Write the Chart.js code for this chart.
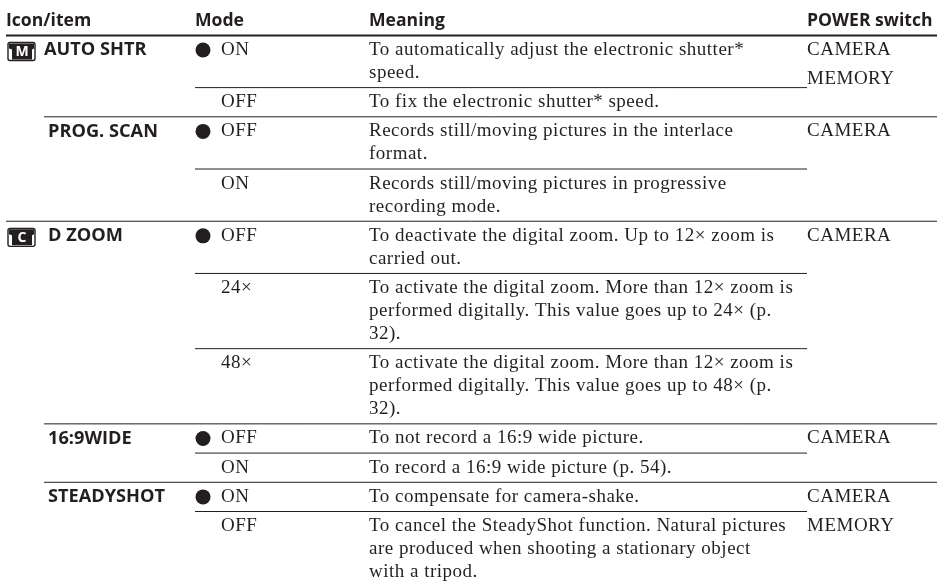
<!DOCTYPE html>
<html lang="en">
<head>
  <meta charset="UTF-8">
  <title>Menu settings table</title>
  <style>
    html, body { margin: 0; padding: 0; background: #fff; }
    canvas { display: block; }
  </style>
</head>
<body>
  <canvas id="chart" width="937" height="582"></canvas>
  <script src="https://cdn.jsdelivr.net/npm/chart.js"></script>
  <script>
    const headers = ['Icon/item', 'Mode', 'Meaning', 'POWER switch'];
    const itemNames = ['AUTO SHTR', 'PROG. SCAN', 'D ZOOM', '16:9WIDE', 'STEADYSHOT'];
    const itemIcons = ['M', '', 'C', '', ''];
    // which item each mode row belongs to
    const rowItem = [0, 0, 1, 1, 2, 2, 2, 3, 3, 4, 4];
    const modeLabels = ['ON', 'OFF', 'OFF', 'ON', 'OFF', '24×', '48×', 'OFF', 'ON', 'ON', 'OFF'];
    const defaultRows = [0, 2, 4, 7, 9];
    const meanings = [
      ['To automatically adjust the electronic shutter*', 'speed.'],
      ['To fix the electronic shutter* speed.'],
      ['Records still/moving pictures in the interlace', 'format.'],
      ['Records still/moving pictures in progressive', 'recording mode.'],
      ['To deactivate the digital zoom. Up to 12× zoom is', 'carried out.'],
      ['To activate the digital zoom. More than 12× zoom is', 'performed digitally. This value goes up to 24× (p.', '32).'],
      ['To activate the digital zoom. More than 12× zoom is', 'performed digitally. This value goes up to 48× (p.', '32).'],
      ['To not record a 16:9 wide picture.'],
      ['To record a 16:9 wide picture (p. 54).'],
      ['To compensate for camera-shake.'],
      ['To cancel the SteadyShot function. Natural pictures', 'are produced when shooting a stationary object', 'with a tripod.']
    ];
    const powerLabels = ['CAMERA', 'MEMORY', 'CAMERA', 'CAMERA', 'CAMERA', 'CAMERA', 'MEMORY'];
    const powerRows = [0, 0, 2, 4, 7, 9, 10];

    // layout, x axis is in px, y axis is in text lines below the header rule
    const X = { icon: 6, item: 48, itemIcon: 44, bullet: 203, mode: 221, meaning: 369, power: 807, end: 937 };
    const LINE_PX = 23;
    const TOP_PX = 35.4;
    const ROW_PAD = 0.27;
    const HEADER_Y = -0.62;
    const MEMORY_NUDGE = 1.25;
    const INK = '#231f20';
    const SERIF = '19px "Liberation Serif"';
    const SERIF_SPACING = '0.5px';
    const BOLD = '700 18.2px "Open Sans"';
    const HEAD = '700 17.6px "Open Sans"';

    // top of each row in line units
    const rowTops = [];
    let cursor = 0;
    meanings.forEach(lines => {
      rowTops.push(cursor);
      cursor += lines.length + ROW_PAD;
    });
    const lineY = (row, i) => rowTops[row] + ROW_PAD / 2 + i + 0.5;

    const ruleSets = [{
      label: 'header rule',
      type: 'line',
      data: [{ x: X.icon, y: 0 }, { x: X.end, y: 0 }],
      borderColor: INK, borderWidth: 2, pointRadius: 0
    }];
    rowTops.slice(1).forEach((top, i) => {
      const same = rowItem[i] === rowItem[i + 1];
      const start = same ? X.bullet - 8 : (itemIcons[rowItem[i + 1]] ? X.icon : X.itemIcon);
      ruleSets.push({
        label: 'rule ' + i,
        type: 'line',
        data: [{ x: start, y: top }, { x: same ? X.power : X.end, y: top }],
        borderColor: INK, borderWidth: 1, pointRadius: 0
      });
    });

    const tableText = {
      id: 'tableText',
      afterDatasetsDraw(chart) {
        const c = chart.ctx, sx = chart.scales.x, sy = chart.scales.y;
        const put = (s, x, y, font, spacing) => {
          c.font = font;
          c.letterSpacing = spacing || '0px';
          c.fillText(s, sx.getPixelForValue(x), sy.getPixelForValue(y));
        };
        c.save();
        c.fillStyle = INK;
        c.textBaseline = 'middle';
        [X.icon, X.bullet - 8, X.meaning, X.power].forEach((x, i) => put(headers[i], x, HEADER_Y, HEAD));
        itemNames.forEach((name, i) => {
          const row = rowItem.indexOf(i);
          put(name, i === 0 ? X.itemIcon : X.item, lineY(row, 0) + 0.01, BOLD);
          if (itemIcons[i]) drawIcon(c, sx.getPixelForValue(X.icon + 2), sy.getPixelForValue(lineY(row, 0)) + 1.5, itemIcons[i]);
        });
        modeLabels.forEach((m, r) => put(m, X.mode, lineY(r, 0), SERIF, SERIF_SPACING));
        meanings.forEach((lines, r) => lines.forEach((s, i) => put(s, X.meaning, lineY(r, i), SERIF, SERIF_SPACING)));
        powerLabels.forEach((p, i) => {
          const nudge = i === 1 ? MEMORY_NUDGE : 0;
          put(p, X.power, lineY(powerRows[i], 0) + nudge, SERIF, SERIF_SPACING);
        });
        c.restore();
      }
    };

    // small black camera-mode pictogram, 27 x 18
    function drawIcon(c, x, cy, letter) {
      const y = cy - 9;
      c.save();
      c.letterSpacing = '0px';
      c.fillStyle = '#fff';
      c.strokeStyle = INK;
      c.lineWidth = 1.4;
      c.beginPath();
      c.roundRect(x, y, 27, 18, 2);
      c.fill();
      c.stroke();
      c.fillStyle = INK;
      c.beginPath();
      c.moveTo(x + 1, y + 1);
      c.lineTo(x + 26, y + 1);
      c.lineTo(x + 26, y + 6);
      c.lineTo(x + 24, y + 7);
      c.lineTo(x + 24, y + 17);
      c.lineTo(x + 4, y + 17);
      c.lineTo(x + 4, y + 7);
      c.lineTo(x + 1, y + 6);
      c.closePath();
      c.fill();
      c.fillStyle = '#fff';
      c.font = '700 14px "Open Sans"';
      c.textAlign = 'center';
      c.textBaseline = 'middle';
      c.fillText(letter, x + 14, y + 10);
      c.restore();
    }

    new Chart(document.getElementById('chart'), {
      type: 'scatter',
      data: {
        datasets: [...ruleSets, {
          label: 'default setting',
          type: 'scatter',
          data: defaultRows.map(r => ({ x: X.bullet, y: lineY(r, 0) })),
          backgroundColor: INK,
          borderWidth: 0,
          pointRadius: 7.5,
          pointHoverRadius: 7.5
        }]
      },
      options: {
        responsive: false,
        animation: false,
        layout: { padding: 0, autoPadding: false },
        plugins: { legend: { display: false }, tooltip: { enabled: false } },
        scales: {
          x: { type: 'linear', display: false, min: 0, max: 937 },
          y: { type: 'linear', display: false, reverse: true, min: -TOP_PX / LINE_PX, max: (582 - TOP_PX) / LINE_PX }
        }
      },
      plugins: [tableText]
    });
  </script>
</body>
</html>
